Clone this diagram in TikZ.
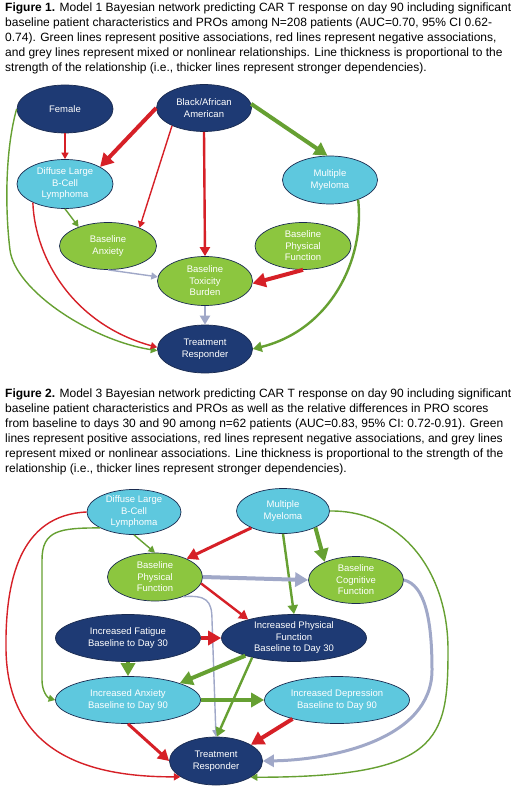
\documentclass[tikz,border=0pt]{standalone}
\usepackage{fontspec}
\setmainfont{Liberation Sans}
\usetikzlibrary{arrows.meta,shapes.geometric}
\definecolor{navyc}{HTML}{1E3A74}
\definecolor{cyanc}{HTML}{5EC8DE}
\definecolor{greenc}{HTML}{8CC63F}
\definecolor{ndborder}{HTML}{1A2B50}
\definecolor{negc}{HTML}{D62027}
\definecolor{posc}{HTML}{66A032}
\definecolor{mixc}{HTML}{A0A8C8}
\tikzset{
  nd/.style={ellipse, draw=ndborder, line width=0.7pt, inner sep=0pt, align=center, text=white, font=\fontsize{9.5}{11.5}\selectfont},
  sz/.style 2 args={minimum width=#1pt, minimum height=#2pt},
  navyn/.style={nd, fill=navyc},
  cyann/.style={nd, fill=cyanc},
  greenn/.style={nd, fill=greenc},
  thinl/.style={line width=1.4pt, -{Triangle[length=6.5pt,width=7pt]}},
  medl/.style={line width=2.4pt, -{Triangle[length=9pt,width=10pt]}},
  mthkl/.style={line width=3pt, -{Triangle[length=11pt,width=12pt]}},
  thickl/.style={line width=4pt, -{Triangle[length=13pt,width=14pt]}},
  posl/.style={draw=posc}, negl/.style={draw=negc}, mixl/.style={draw=mixc},
  caption/.style={anchor=north west, inner sep=0pt, align=left, font=\fontsize{12}{15}\selectfont}
}
\begin{document}
\begin{tikzpicture}[x=1pt,y=-1pt]
\useasboundingbox[fill=white] (0,0) rectangle (520,791);

\node[caption] (cap1) at (5,2.5) {\textbf{Figure 1.} Model 1 Bayesian network predicting CAR T response on day 90 including significant\\
baseline patient characteristics and PROs among N=208 patients (AUC=0.70, 95\% CI 0.62-\\
0.74). Green lines represent positive associations, red lines represent negative associations,\\
and grey lines represent mixed or nonlinear relationships. Line thickness is proportional to the\\
strength of the relationship (i.e., thicker lines represent stronger dependencies).};

% Figure 1 nodes
\node[navyn, sz={96}{48}] (fem) at (65,109) {Female};
\node[navyn, sz={95}{47}] (blk) at (204,108) {Black/African\\American};
\node[cyann, sz={96}{49}] (dl) at (65,184) {Diffuse Large\\B-Cell\\Lymphoma};
\node[cyann, sz={95}{48}] (mm) at (330,180) {Multiple\\Myeloma};
\node[greenn, sz={97}{47}] (anx) at (108,246) {Baseline\\Anxiety};
\node[greenn, sz={96}{47}] (pf) at (303,246) {Baseline\\Physical\\Function};
\node[greenn, sz={95}{49}] (tox) at (205,281) {Baseline\\Toxicity\\Burden};
\node[navyn, sz={95}{48}] (tr) at (205,349) {Treatment\\Responder};

% Figure 1 edges
\draw[negl,thinl] (fem.south) -- (dl.north);
\draw[negl,thickl] (blk.180) -- (dl.26);
\draw[negl,thinl] (blk.209) -- (anx.30);
\draw[negl,medl] (blk.south) -- (tox.north);
\draw[posl,thickl] (blk.5) -- (mm.96);
\draw[posl,thinl] (fem.west) .. controls (5,150) and (5,210) .. (10,250) .. controls (15,290) and (90,340) .. (tr.182);
\draw[negl,thinl] (dl.210) .. controls (35,260) and (75,325) .. (tr.178);
\draw[posl,thinl] (dl.south) -- (anx.147);
\draw[mixl,thinl] (anx.south) -- (tox.175);
\draw[negl,thickl] (pf.south) -- (tox.-3);
\draw[mixl,medl] (tox.south) -- (tr.north);
\draw[posl,medl] (mm.-35) .. controls (365,260) and (330,330) .. (tr.east);

\node[caption] (cap2) at (5,388.5) {\textbf{Figure 2.} Model 3 Bayesian network predicting CAR T response on day 90 including significant\\
baseline patient characteristics and PROs as well as the relative differences in PRO scores\\
from baseline to days 30 and 90 among n=62 patients (AUC=0.83, 95\% CI: 0.72-0.91). Green\\
lines represent positive associations, red lines represent negative associations, and grey lines\\
represent mixed or nonlinear associations. Line thickness is proportional to the strength of the\\
relationship (i.e., thicker lines represent stronger dependencies).};

% Figure 2 nodes
\node[cyann, sz={94}{44}] (dlb) at (134,512) {Diffuse Large\\B-Cell\\Lymphoma};
\node[cyann, sz={93}{45}] (mmb) at (283,511) {Multiple\\Myeloma};
\node[greenn, sz={95}{48}] (bpf) at (155,577) {Baseline\\Physical\\Function};
\node[greenn, sz={95}{47}] (bcf) at (356,580) {Baseline\\Cognitive\\Function};
\node[navyn, sz={145}{47}] (fat) at (128,638) {Increased Fatigue\\Baseline to Day 30};
\node[navyn, sz={145}{47}] (ipf) at (294,638) {Increased Physical\\Function\\Baseline to Day 30};
\node[cyann, sz={145}{47}] (anxb) at (128,700) {Increased Anxiety\\Baseline to Day 90};
\node[cyann, sz={145}{47}] (dep) at (337,700) {Increased Depression\\Baseline to Day 90};
\node[navyn, sz={93}{48}] (trb) at (216,761) {Treatment\\Responder};

% Figure 2 edges
\draw[mixl,thinl] (bpf.-35) .. controls (206,595) and (212,600) .. (212,620) -- (trb.north);
\draw[posl,thinl] (dlb.south) -- (bpf.north);
\draw[negl,mthkl] (mmb.208) -- (bpf.30);
\draw[posl,thickl] (mmb.-27) -- (bcf.150);
\draw[posl,medl] (mmb.south) -- (ipf.north);
\draw[mixl,thickl] (bpf.east) -- (bcf.west);
\draw[negl,medl] (bpf.-8) -- (ipf.158);
\draw[negl,thinl] (dlb.west) .. controls (20,515) and (5,580) .. (6,650) .. controls (8,760) and (100,777) .. (trb.204);
\draw[posl,thinl] (dlb.205) .. controls (60,528) and (42,530) .. (42,560) -- (42,680) .. controls (42,692) and (48,698) .. (anxb.west);
\draw[negl,thickl] (fat.east) -- (ipf.west);
\draw[posl,thickl] (fat.south) -- (anxb.north);
\draw[posl,thickl] (ipf.200) -- (anxb.18);
\draw[posl,medl] (ipf.205) -- (trb.88);
\draw[posl,thickl] (anxb.east) -- (dep.west);
\draw[negl,mthkl] (anxb.south) -- (trb.west);
\draw[negl,thickl] (dep.203) -- (trb.25);
\draw[mixl,mthkl] (bcf.east) .. controls (425,585) and (432,620) .. (432,670) .. controls (432,740) and (330,760) .. (trb.east);
\draw[posl,thinl] (mmb.east) .. controls (400,510) and (448,570) .. (448,650) .. controls (448,740) and (440,777) .. (trb.-25);
\end{tikzpicture}
\end{document}
